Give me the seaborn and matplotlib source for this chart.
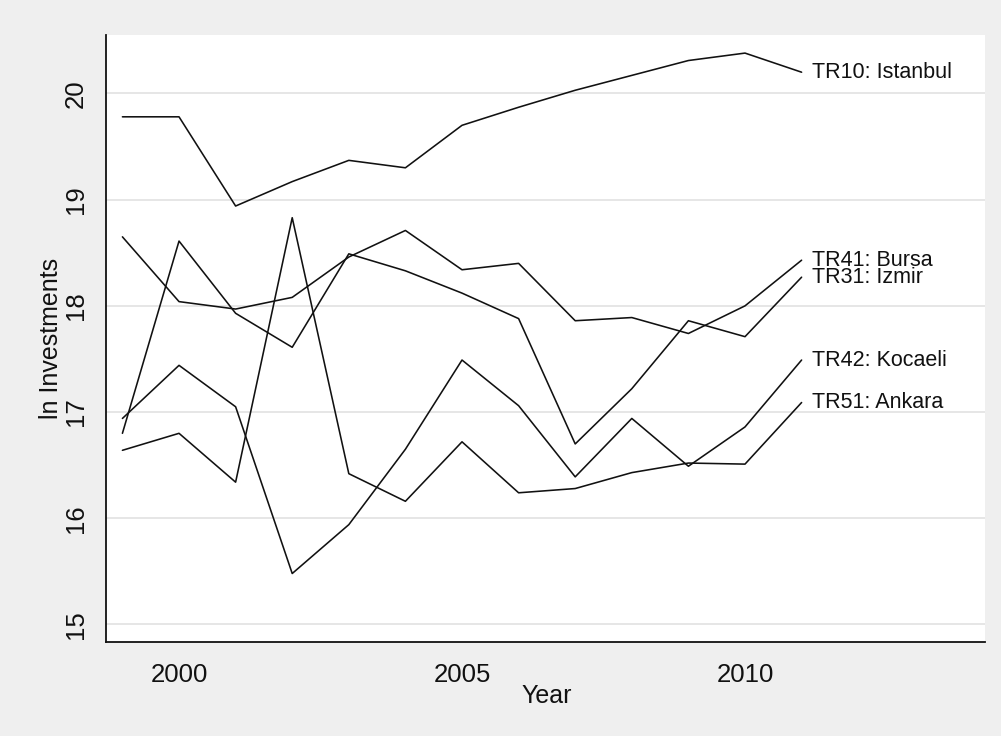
import numpy as np
import pandas as pd
import seaborn as sns
import matplotlib
matplotlib.use('Agg')
import matplotlib.pyplot as plt

# data
years = [1999, 2000, 2001, 2002, 2003, 2004, 2005, 2006, 2007, 2008, 2009, 2010, 2011]
istanbul = [19.78, 19.78, 18.94, 19.17, 19.37, 19.30, 19.70, 19.87, 20.03, 20.17, 20.31, 20.38, 20.20]
bursa = [18.65, 18.04, 17.97, 18.08, 18.46, 18.71, 18.34, 18.40, 17.86, 17.89, 17.74, 18.00, 18.43]
izmir = [16.80, 18.61, 17.93, 17.61, 18.49, 18.33, 18.12, 17.88, 16.70, 17.22, 17.86, 17.71, 18.27]
kocaeli = [16.94, 17.44, 17.05, 15.48, 15.94, 16.65, 17.49, 17.06, 16.39, 16.94, 16.49, 16.86, 17.49]
ankara = [16.64, 16.80, 16.34, 18.83, 16.42, 16.16, 16.72, 16.24, 16.28, 16.43, 16.52, 16.51, 17.09]
regions = ['TR10: Istanbul', 'TR41: Bursa', 'TR31: Izmir', 'TR42: Kocaeli', 'TR51: Ankara']
series = [istanbul, bursa, izmir, kocaeli, ankara]
xticks = [2000, 2005, 2010]
yticks = [15, 16, 17, 18, 19, 20]

df = pd.concat([
    pd.DataFrame({'Year': years, 'ln': vals, 'Region': name})
    for name, vals in zip(regions, series)
], ignore_index=True)

# style
sns.set_style('white')
plt.rcParams['font.family'] = ['Liberation Sans', 'DejaVu Sans']

bg = '#efefef'
fig = plt.figure(figsize=(10.01, 7.36), dpi=100, facecolor=bg)
ax = fig.add_axes([0.1059, 0.1277, 0.8781, 0.8247])
ax.set_facecolor('white')

sns.lineplot(data=df, x='Year', y='ln', hue='Region', units='Region',
             estimator=None, palette=['#111111'] * len(regions),
             legend=False, linewidth=1.15, ax=ax)

# end-of-line labels (Bursa and Izmir overlap, as in the original)
for name, vals in zip(regions, series):
    ax.annotate(name, xy=(years[-1], vals[-1]), xytext=(7.2, 0),
                textcoords='offset points', va='center', ha='left',
                fontsize=15.5, color='#111111')

ax.set_xlim(1998.71, 2014.24)
ax.set_ylim(14.835, 20.55)
ax.set_xticks(xticks)
ax.set_yticks(yticks)
ax.yaxis.grid(True, color='#e6e6e6', linewidth=1.4)
ax.xaxis.grid(False)
ax.set_axisbelow(True)

for side in ['top', 'right']:
    ax.spines[side].set_visible(False)
for side in ['left', 'bottom']:
    ax.spines[side].set_color('#111111')
    ax.spines[side].set_linewidth(1.3)

ax.tick_params(axis='both', direction='out', length=5.8, width=1.1,
               color='#111111', labelsize=18.5, labelcolor='#111111')
ax.tick_params(axis='x', pad=9)
ax.tick_params(axis='y', pad=7)
for lbl in ax.get_yticklabels():
    lbl.set_rotation(90)
    lbl.set_va('center')
    lbl.set_ha('right')

ax.set_xlabel('Year', fontsize=18, color='#111111')
ax.set_ylabel('ln Investments', fontsize=18, color='#111111', labelpad=1)
ax.xaxis.set_label_coords(0.501, -0.0685)
ax.xaxis.label.set_va('top')

fig.savefig('out.png', dpi=100, facecolor=bg)
